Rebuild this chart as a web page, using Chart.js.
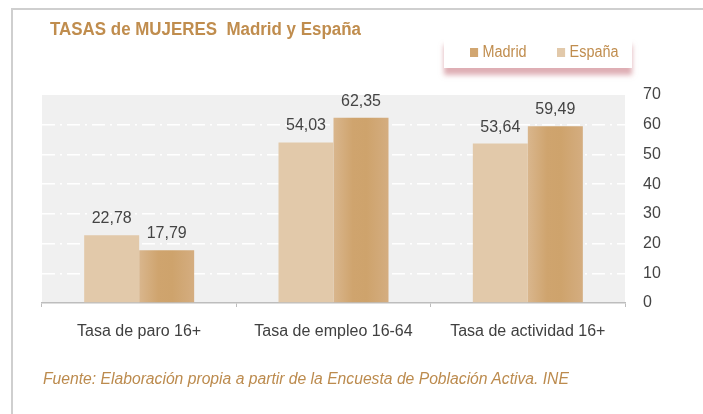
<!DOCTYPE html>
<html>
<head>
<meta charset="utf-8">
<script src="https://cdn.jsdelivr.net/npm/chart.js@4.4.1/dist/chart.umd.min.js"></script>
<style>
  html, body { margin: 0; padding: 0; background: #fff; }
  #wrap { position: relative; width: 703px; height: 414px; overflow: hidden; font-family: "Liberation Sans", Arial, sans-serif; }
  #frameTop { position: absolute; left: 11px; top: 8px; width: 700px; height: 2px; background: #cfcfcf; }
  #frameLeft { position: absolute; left: 11px; top: 8px; width: 2px; height: 420px; background: #cfcfcf; }
  #title { position: absolute; left: 50px; top: 19px; font-size: 18px; font-weight: bold; color: #C08D4E; white-space: pre; transform: scaleX(0.94); transform-origin: left top; }
  #legend { position: absolute; left: 444px; top: 38px; width: 188px; height: 30px; background: #fff; box-shadow: 0 7px 5px 0px rgba(200,120,130,0.6); }
  .li { position: absolute; top: 0; height: 30px; line-height: 28px; font-size: 16px; color: #C08D4E; white-space: nowrap; transform: scaleX(0.9); transform-origin: left center; }
  .sw { display: inline-block; width: 9px; height: 9px; margin-right: 5px; vertical-align: 0px; }
  #source { position: absolute; left: 43px; top: 370px; font-size: 16px; font-style: italic; color: #BC8B4E; white-space: nowrap; transform: scaleX(0.98); transform-origin: left top; }
  canvas { position: absolute; left: 0; top: 0; }
</style>
</head>
<body>
<div id="wrap">
  <div id="frameTop"></div>
  <div id="frameLeft"></div>
  <canvas id="c" width="703" height="414"></canvas>
  <div id="title">TASAS de MUJERES  Madrid y España</div>
  <div id="legend"></div>
  <div id="source">Fuente: Elaboración propia a partir de la Encuesta de Población Activa. INE</div>
</div>
<script>
const categories = ["Tasa de paro 16+", "Tasa de empleo 16-64", "Tasa de actividad 16+"];
const espana = [22.78, 54.03, 53.64];
const madrid = [17.79, 62.35, 59.49];
const yTicks = [0, 10, 20, 30, 40, 50, 60, 70];

const CAT_PCT = 0.566;
const lightColor = '#E2C9AA';
const darkSolid = '#D1A671';

function madridFill(ctx) {
  const chart = ctx.chart;
  const xs = chart.scales && chart.scales.x;
  if (!chart.chartArea || !xs || ctx.dataIndex === undefined) return darkSolid;
  const center = xs.getPixelForValue(ctx.dataIndex);
  const w = (xs.width / categories.length) * CAT_PCT / 2;
  const left = center, right = center + w;
  const g = chart.ctx.createLinearGradient(left, 0, right, 0);
  g.addColorStop(0, '#D9B68D');
  g.addColorStop(0.35, '#CFA46E');
  g.addColorStop(0.6, '#CEA36C');
  g.addColorStop(1, '#D4AD80');
  return g;
}

const bgPlugin = {
  id: 'plotBg',
  beforeDraw(chart) {
    const { ctx, chartArea: a } = chart;
    ctx.save();
    ctx.fillStyle = '#F0F0F0';
    ctx.fillRect(a.left, a.top, a.right - a.left, a.bottom - a.top);
    ctx.restore();
  }
};

const labelPlugin = {
  id: 'valueLabels',
  afterDatasetsDraw(chart) {
    const { ctx } = chart;
    ctx.save();
    ctx.font = '16px "Liberation Sans", Arial, sans-serif';
    ctx.fillStyle = '#444444';
    ctx.textAlign = 'center';
    ctx.textBaseline = 'alphabetic';
    chart.data.datasets.forEach((ds, di) => {
      const meta = chart.getDatasetMeta(di);
      meta.data.forEach((bar, i) => {
        const txt = ds.data[i].toFixed(2).replace('.', ',');
        ctx.fillText(txt, bar.x, bar.y - 12);
      });
    });
    ctx.restore();
  }
};

const chart = new Chart(document.getElementById('c'), {
  type: 'bar',
  data: {
    labels: categories,
    datasets: [
      { label: 'España', data: espana, backgroundColor: lightColor, borderWidth: 0 },
      { label: 'Madrid', data: madrid, backgroundColor: madridFill, borderWidth: 0 }
    ]
  },
  options: {
    responsive: false,
    animation: false,
    devicePixelRatio: 1,
    layout: { padding: { left: 42, top: 95, right: 28, bottom: 66 } },
    datasets: { bar: { categoryPercentage: CAT_PCT, barPercentage: 1.0 } },
    plugins: { legend: { display: false }, tooltip: { enabled: false }, title: { display: false } },
    scales: {
      x: {
        offset: true,
        grid: { offset: true, drawOnChartArea: false, drawTicks: true, tickLength: 4, color: '#BDBDBD', lineWidth: 1 },
        border: { display: true, color: '#BDBDBD', width: 1.5 },
        ticks: { color: '#404040', font: { size: 16, family: '"Liberation Sans", Arial, sans-serif' }, padding: 15, maxRotation: 0 },
        afterFit(s) { s.height = 45; }
      },
      y: {
        position: 'right',
        min: 0, max: 70,
        afterBuildTicks(s) { s.ticks = yTicks.map(v => ({ value: v })); },
        grid: { color: (c) => (c.tick && c.tick.value > 0 && c.tick.value < 70) ? '#FFFFFF' : 'rgba(0,0,0,0)', lineWidth: 1.5, drawTicks: false },
        border: { display: false, dash: [13, 5, 2, 5] },
        ticks: { color: '#444444', font: { size: 16, family: '"Liberation Sans", Arial, sans-serif' }, padding: 18 },
        afterFit(s) { s.width = 50; }
      }
    }
  },
  plugins: [bgPlugin, labelPlugin]
});

// HTML legend built from the chart's datasets (Madrid first as in the original)
const legendEl = document.getElementById('legend');
const order = [1, 0];
const xs = [26, 113];
order.forEach((di, k) => {
  const ds = chart.data.datasets[di];
  const item = document.createElement('div');
  item.className = 'li';
  item.style.left = xs[k] + 'px';
  const sw = document.createElement('span');
  sw.className = 'sw';
  sw.style.background = di === 1 ? darkSolid : lightColor;
  item.appendChild(sw);
  item.appendChild(document.createTextNode(ds.label));
  legendEl.appendChild(item);
});
</script>
</body>
</html>
